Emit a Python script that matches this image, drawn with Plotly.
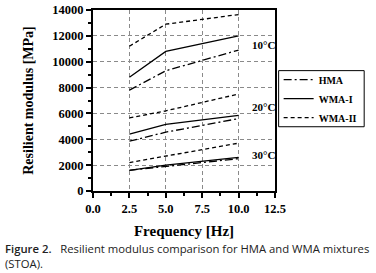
import plotly.graph_objects as go

freq = [2.5, 5.0, 10.0]
temps = ["10°C", "20°C", "30°C"]

hma = {"10°C": [7800, 9300, 10900], "20°C": [3850, 4550, 5600], "30°C": [1600, 1900, 2500]}
wma1 = {"10°C": [8800, 10800, 12000], "20°C": [4400, 5150, 5850], "30°C": [1600, 2000, 2600]}
wma2 = {"10°C": [11200, 12900, 13650], "20°C": [5650, 6200, 7500], "30°C": [2200, 2700, 3700]}

label_y = {"10°C": 11300, "20°C": 6500, "30°C": 2800}

series = [("HMA", hma, "8px,3px,2px,3px"), ("WMA-I", wma1, "solid"), ("WMA-II", wma2, "4px,3px")]

SERIF = "Liberation Serif"
fig = go.Figure()
for name, data, dash in series:
    for i, t in enumerate(temps):
        fig.add_trace(go.Scatter(
            x=freq, y=data[t], mode="lines", name=name, legendgroup=name,
            showlegend=(i == 0),
            line=dict(color="black", width=1.3, dash=dash),
        ))

for t in temps:
    fig.add_annotation(x=10.75, y=label_y[t], text="<b>" + t + "</b>", showarrow=False,
                       xanchor="left", yanchor="middle",
                       font=dict(family=SERIF, size=11, color="black"))

fig.add_annotation(xref="paper", yref="paper", x=-0.495, y=-0.265, xanchor="left", yanchor="top",
                   align="left", showarrow=False,
                   text="<span style='font-weight:600'>Figure 2.</span>   Resilient modulus comparison for HMA and WMA mixtures<br>(STOA).",
                   font=dict(family="Open Sans", size=11.3, color="#222"))

# frame around the legend
fig.add_shape(type="rect", xref="paper", yref="paper", x0=1.02, x1=1.49, y0=0.355, y1=0.665,
              line=dict(color="black", width=1), fillcolor="rgba(0,0,0,0)", layer="above")

axis_common = dict(
    showline=True, linewidth=2, linecolor="black", mirror=True,
    showgrid=True, gridcolor="#8a8a8a", griddash="4px,3px", gridwidth=1,
    ticks="outside", ticklen=5, tickwidth=1.5, tickcolor="black",
    tickfont=dict(family=SERIF, size=12.5, color="black", weight="bold"),
    zeroline=False, automargin=False,
)

fig.update_xaxes(range=[0, 12.5], dtick=2.5, tickformat=".1f",
                 minor=dict(dtick=1.25, ticks="outside", ticklen=3, tickcolor="black", showgrid=False),
                 title=dict(text="Frequency [Hz]", font=dict(family=SERIF, size=15, color="black", weight="bold"), standoff=10),
                 **axis_common)
fig.update_yaxes(range=[0, 14000], dtick=2000, tickformat="d",
                 minor=dict(dtick=1000, ticks="outside", ticklen=3, tickcolor="black", showgrid=False),
                 title=dict(text="Resilient modulus [MPa]", font=dict(family=SERIF, size=14, color="black", weight="bold"), standoff=15),
                 **axis_common)

fig.update_layout(
    width=376, height=273,
    margin=dict(l=93, r=101, t=10, b=82),
    plot_bgcolor="white", paper_bgcolor="white",
    legend=dict(x=1.02, y=0.51, xanchor="left", yanchor="middle",
                borderwidth=0, bgcolor="rgba(0,0,0,0)",
                font=dict(family=SERIF, size=10, color="black", weight="bold"),
                tracegroupgap=0, itemwidth=30),
)

fig.write_html("out.html", config={"displayModeBar": False},
               post_script="document.body.style.margin='0';")
